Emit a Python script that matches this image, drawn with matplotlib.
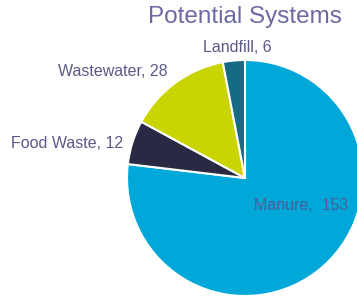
import numpy as np
import matplotlib
matplotlib.use('Agg')
import matplotlib.pyplot as plt

categories = ['Manure', 'Food Waste', 'Wastewater', 'Landfill']
values = [153, 12, 28, 6]
colors = ['#00A8DA', '#2A2944', '#C9D400', '#176A84']

W, H = 357, 299
TEXT_COLOR = '#5B5987'
MANURE_TEXT = '#4E5C98'
TITLE_COLOR = '#6D69A2'

plt.rcParams['font.family'] = ['Liberation Sans', 'DejaVu Sans']


def main():
    fig = plt.figure(figsize=(W / 100, H / 100), dpi=100)
    ax = fig.add_axes([0, 0, 1, 1])

    ax.pie(values, colors=colors, startangle=90, counterclock=False,
           center=(245, H - 178), radius=118, frame=True,
           wedgeprops=dict(edgecolor='white', linewidth=1.5))
    ax.set_xlim(0, W)
    ax.set_ylim(0, H)
    ax.set_aspect('equal')
    ax.axis('off')

    # labels (pixel positions)
    lab = [f"{c}, {v}" for c, v in zip(categories, values)]
    ax.text(301, H - 205, lab[0].replace(', ', ',  '), ha='center', va='center',
            fontsize=11.5, color=MANURE_TEXT)
    ax.text(123, H - 143, lab[1], ha='right', va='center',
            fontsize=11.5, color=TEXT_COLOR)
    ax.text(113, H - 72, lab[2], ha='center', va='center',
            fontsize=11.5, color=TEXT_COLOR)
    ax.text(237, H - 48, lab[3], ha='center', va='center',
            fontsize=11.5, color=TEXT_COLOR)

    ax.text(245, H - 17, 'Potential Systems', ha='center', va='center',
            fontsize=17.5, color=TITLE_COLOR)

    fig.savefig('out.png', dpi=100)
    plt.close(fig)


if __name__ == '__main__':
    main()
